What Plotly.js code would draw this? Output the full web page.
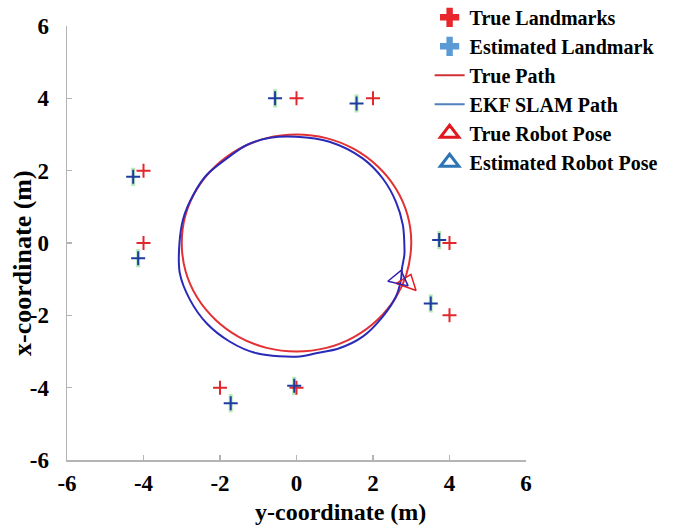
<!DOCTYPE html>
<html>
<head>
<meta charset="utf-8">
<script src="https://cdn.plot.ly/plotly-3.0.1.min.js"></script>
<style>html,body{margin:0;padding:0;background:#fff;}#chart{width:674px;height:529px;}</style>
</head>
<body>
<div id="chart"></div>
<script>
// Axis ticks
var tickVals = [-6, -4, -2, 0, 2, 4, 6];
var tickLabels = ['-6', '-4', '-2', '0', '2', '4', '6'];

// Landmarks: horizontal = y-coordinate, vertical = x-coordinate
var trueLmY = [0, 2, -4, -4, 4, 4, -2, 0];
var trueLmX = [4, 4, 2, 0, 0, -2, -4, -4];
var estLmY = [-0.56, 1.57, -4.27, -4.14, 3.73, 3.51, -1.72, -0.06];
var estLmX = [4.0, 3.86, 1.83, -0.42, 0.08, -1.67, -4.43, -3.95];

// True path
var truePathY = [2.87, 3.0, 2.9, 2.6, 2.12, 1.5, 0.78, 0, -0.78, -1.5, -2.12, -2.6, -2.9, -3.0, -2.9, -2.6, -2.12, -1.5, -0.78, 0, 0.78, 1.5, 2.12, 2.6, 2.87];
var truePathX = [-0.88, 0, 0.78, 1.5, 2.12, 2.6, 2.9, 3.0, 2.9, 2.6, 2.12, 1.5, 0.78, 0, -0.78, -1.5, -2.12, -2.6, -2.9, -3.0, -2.9, -2.6, -2.12, -1.5, -0.88];

// EKF SLAM path
var estPathY = [2.76, 2.82, 2.82, 2.78, 2.60, 2.25, 1.73, 0.86, -0.01, -0.69, -1.30, -1.82, -2.35, -2.70, -2.96, -3.06, -3.05, -2.78, -2.35, -1.74, -1.04, 0.09, 0.51, 1.12, 1.73, 2.25, 2.60, 2.73, 2.76];
var estPathX = [-0.69, -0.33, -0.06, 0.50, 1.14, 1.79, 2.34, 2.80, 2.94, 2.91, 2.71, 2.34, 1.88, 1.33, 0.68, 0.00, -0.84, -1.58, -2.22, -2.73, -3.05, -3.14, -3.05, -2.91, -2.59, -2.04, -1.48, -1.02, -0.69];

// Robot poses
var truePoseY = [2.91];
var truePoseX = [-1.10];
var estPoseY = [2.68];
var estPoseX = [-1.00];

var legendNames = ['True Landmarks', 'Estimated Landmark', 'True Path', 'EKF SLAM Path', 'True Robot Pose', 'Estimated Robot Pose'];

var FONT = 'Liberation Serif, Times New Roman, serif';

var traces = [
  {x: truePathY, y: truePathX, mode: 'lines', line: {color: 'rgb(226,48,52)', width: 2, shape: 'spline'}, showlegend: false, hoverinfo: 'skip'},
  {x: estPathY, y: estPathX, mode: 'lines', line: {color: 'rgb(42,42,185)', width: 2, shape: 'spline'}, showlegend: false, hoverinfo: 'skip'},
  {x: estLmY, y: estLmX, mode: 'markers', marker: {symbol: 'line-ns', size: 13, line: {color: 'rgba(120,215,120,0.55)', width: 4}}, showlegend: false, hoverinfo: 'skip'},
  {x: trueLmY, y: trueLmX, mode: 'markers', marker: {symbol: 'cross-thin', size: 10, line: {color: 'rgb(225,40,45)', width: 2}}, showlegend: false},
  {x: estLmY, y: estLmX, mode: 'markers', marker: {symbol: 'cross-thin', size: 10, line: {color: 'rgb(30,60,160)', width: 2}}, showlegend: false},
  {x: truePoseY, y: truePoseX, mode: 'markers', marker: {symbol: 'triangle-up-open', size: 18, angle: 20, color: 'rgb(225,30,35)', line: {width: 1.5}}, showlegend: false},
  {x: estPoseY, y: estPoseX, mode: 'markers', marker: {symbol: 'triangle-up-open', size: 18, angle: 13, color: 'rgb(50,30,170)', line: {width: 1.5}}, showlegend: false},
  // legend entries
  {x: [null], y: [null], name: legendNames[0], mode: 'markers', marker: {symbol: 'cross', size: 20, color: 'rgb(232,38,43)'}},
  {x: [null], y: [null], name: legendNames[1], mode: 'markers', marker: {symbol: 'cross', size: 20, color: 'rgb(91,155,213)'}},
  {x: [null], y: [null], name: legendNames[2], mode: 'lines', line: {color: 'rgb(210,50,55)', width: 2}},
  {x: [null], y: [null], name: legendNames[3], mode: 'lines', line: {color: 'rgb(79,129,189)', width: 2}},
  {x: [null], y: [null], name: legendNames[4], mode: 'markers', marker: {symbol: 'triangle-up-open', size: 17, color: 'rgb(225,25,30)', line: {width: 3}}},
  {x: [null], y: [null], name: legendNames[5], mode: 'markers', marker: {symbol: 'triangle-up-open', size: 17, color: 'rgb(46,117,182)', line: {width: 3}}}
];

var axisCommon = {
  range: [-6, 6],
  tickvals: tickVals,
  ticktext: tickLabels,
  showline: true,
  linecolor: '#b4b4b4',
  linewidth: 1.5,
  ticks: 'inside',
  ticklen: 5,
  tickcolor: '#b4b4b4',
  tickwidth: 1.5,
  showgrid: false,
  zeroline: false,
  tickfont: {family: FONT, size: 23, color: '#000', weight: 'bold'},
  fixedrange: true
};

var layout = {
  width: 674,
  height: 529,
  margin: {l: 67, r: 148, t: 26, b: 69, autoexpand: false},
  paper_bgcolor: '#fff',
  plot_bgcolor: '#fff',
  xaxis: Object.assign({}, axisCommon, {ticklabelstandoff: 2}),
  yaxis: Object.assign({}, axisCommon, {ticklabelstandoff: 12}),
  showlegend: true,
  legend: {
    x: 0.79, y: 1.065, xanchor: 'left', yanchor: 'top',
    bgcolor: 'rgba(0,0,0,0)',
    font: {family: FONT, size: 20, color: '#000', weight: 'bold'},
    itemwidth: 30
  },
  annotations: [
    {text: 'y-coordinate (m)', xref: 'paper', yref: 'paper', x: 0.595, y: -0.12, xanchor: 'center', yanchor: 'middle', showarrow: false,
     font: {family: FONT, size: 24, color: '#000', weight: 'bold'}},
    {text: 'x-coordinate (m)', xref: 'paper', yref: 'paper', x: -0.096, y: 0.454, xanchor: 'center', yanchor: 'middle', showarrow: false, textangle: -90,
     font: {family: FONT, size: 26, color: '#000', weight: 'bold'}}
  ]
};

Plotly.newPlot('chart', traces, layout, {displayModeBar: false, staticPlot: true});
</script>
</body>
</html>
